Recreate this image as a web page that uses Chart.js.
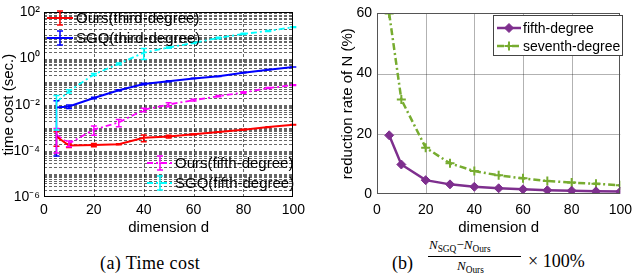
<!DOCTYPE html>
<html>
<head>
<meta charset="utf-8">
<script src="https://cdn.jsdelivr.net/npm/chart.js@4/dist/chart.umd.min.js"></script>
<style>
  html, body { margin: 0; padding: 0; background: #fff; }
  body { width: 640px; height: 278px; position: relative; overflow: hidden; }
  canvas { position: absolute; top: 0; }
  #ca { left: 0; }
  #cb { left: 320px; }
  .cap { position: absolute; color: #000; white-space: nowrap; line-height: 1; font-family: "Liberation Serif", serif; }
  .cap i { font-style: italic; }
  .sub { font-size: 0.72em; position: relative; top: 0.3em; }
</style>
</head>
<body>
<canvas id="ca" width="310" height="237"></canvas>
<canvas id="cb" width="320" height="237"></canvas>

<div class="cap" style="left:100px; top:254px; font-size:18px; letter-spacing:0.4px">(a) Time cost</div>
<div class="cap" style="left:392px; top:254px; font-size:18px">(b)</div>
<div class="cap" style="left:429px; top:238px; font-size:13px"><i>N</i><span class="sub">SGQ</span>&minus;<i>N</i><span class="sub">Ours</span></div>
<div style="position:absolute; left:428px; top:256px; width:93px; height:1px; background:#000"></div>
<div class="cap" style="left:457px; top:259px; font-size:13px"><i>N</i><span class="sub">Ours</span></div>
<div class="cap" style="left:528px; top:252px; font-size:18px">&times; 100%</div>

<script>
// dimension d
const dims = [5, 10, 20, 30, 40, 50, 60, 70, 80, 90, 100];

// (a) time cost in seconds, with error bar half widths
const oursThird    = [4.2e-4, 1.7e-4, 1.8e-4, 1.95e-4, 3.7e-4, 4.2e-4, 5.2e-4, 6.6e-4, 8.3e-4, 1.07e-3, 1.35e-3];
const oursThirdErr = [2.6e-4, 0.3e-4, 0.3e-4, 0.1e-4, 1.2e-4, 0.6e-4, 0.2e-4, 0.2e-4, 0.3e-4, 0.3e-4, 0.3e-4];
const sgqThird     = [7.5e-3, 8.3e-3, 0.0195, 0.042, 0.079, 0.105, 0.138, 0.17, 0.245, 0.33, 0.43];
const sgqThirdErr  = [7.44e-3, 1.5e-3, 1.5e-3, 2e-3, 6e-3, 5e-3, 3e-3, 3e-3, 5e-3, 5e-3, 5e-3];
const oursFifth    = [5e-4, 2.1e-4, 8.3e-4, 1.7e-3, 6.0e-3, 0.0102, 0.0158, 0.0234, 0.0339, 0.0525, 0.0708];
const oursFifthErr = [4.2e-4, 0.6e-4, 3.5e-4, 0.6e-3, 1.0e-3, 2.0e-3, 1.5e-3, 1.5e-3, 2.5e-3, 2.5e-3, 3e-3];
const sgqFifth     = [0.013, 0.038, 0.204, 0.59, 1.8, 3.0, 4.8, 7.8, 11.7, 15.8, 22.9];
const sgqFifthErr  = [0.0122, 0.006, 0.02, 0.05, 0.9, 0.2, 0.3, 0.5, 0.8, 0.8, 1.0];

// (b) reduction rate of N in percent
const fifthRate   = [19.5, 9.8, 4.6, 3.2, 2.4, 1.9, 1.55, 1.25, 1.1, 0.9, 0.8];
const seventhRate = [60, 31.4, 15.4, 10.2, 7.6, 6.2, 5.2, 4.3, 3.8, 3.4, 2.9];

const xTicks = [0, 20, 40, 60, 80, 100];
const rateTicks = [0, 20, 40, 60];
const logLabels = { '-6': '10⁻⁶', '-4': '10⁻⁴', '-2': '10⁻²', '0': '10⁰', '2': '10²' };

const FONT = '"Liberation Sans", Arial, sans-serif';

function pts(ys) {
  return dims.map((d, i) => ({ x: d, y: ys[i] }));
}

// all 1..9 x 10^k ticks so every minor grid line shows
function logTicks(lo, hi) {
  var out = [];
  for (var k = lo; k < hi; k++) {
    for (var m = 1; m < 10; m++) out.push({ value: m * Math.pow(10, k) });
  }
  out.push({ value: Math.pow(10, hi) });
  return out;
}

// matlab style grid: one line per tick of each scale
const matGrid = {
  id: 'matGrid',
  beforeDatasetsDraw(chart, args, opts) {
    const ctx = chart.ctx, a = chart.chartArea;
    ctx.save();
    ctx.strokeStyle = opts.color;
    ctx.lineWidth = 1;
    ctx.setLineDash(opts.dash);
    const xs = chart.scales.x, ys = chart.scales.y;
    xs.ticks.forEach(function (t) {
      const px = Math.round(xs.getPixelForValue(t.value)) + 0.5;
      if (px <= a.left + 1 || px >= a.right - 1) return;
      ctx.beginPath(); ctx.moveTo(px, a.bottom); ctx.lineTo(px, a.top); ctx.stroke();
    });
    ys.ticks.forEach(function (t) {
      const py = Math.round(ys.getPixelForValue(t.value)) + 0.5;
      if (py <= a.top + 1 || py >= a.bottom - 1) return;
      ctx.beginPath(); ctx.moveTo(a.left, py); ctx.lineTo(a.right, py); ctx.stroke();
    });
    ctx.restore();
  }
};

const errorBars = {
  id: 'errorBars',
  afterDatasetsDraw(chart) {
    const ctx = chart.ctx, xs = chart.scales.x, ys = chart.scales.y;
    chart.data.datasets.forEach(function (ds) {
      if (!ds.errors) return;
      ctx.save();
      ctx.strokeStyle = ds.borderColor;
      ctx.lineWidth = 1.5;
      ctx.setLineDash([]);
      ds.data.forEach(function (p, j) {
        const e = ds.errors[j];
        const px = xs.getPixelForValue(p.x);
        const y1 = ys.getPixelForValue(Math.max(p.y - e, ys.min));
        const y2 = ys.getPixelForValue(p.y + e);
        ctx.beginPath();
        ctx.moveTo(px, y1); ctx.lineTo(px, y2);
        ctx.moveTo(px - 3, y1); ctx.lineTo(px + 3, y1);
        ctx.moveTo(px - 3, y2); ctx.lineTo(px + 3, y2);
        ctx.stroke();
      });
      ctx.restore();
    });
  }
};

const frame = {
  id: 'frame',
  afterDatasetsDraw(chart, args, opts) {
    const a = chart.chartArea, ctx = chart.ctx;
    ctx.save();
    ctx.strokeStyle = opts.color || '#000';
    ctx.lineWidth = 1;
    ctx.setLineDash([]);
    ctx.strokeRect(Math.round(a.left) + 0.5, Math.round(a.top) + 0.5,
                   Math.round(a.right - a.left) - 1, Math.round(a.bottom - a.top) - 1);
    ctx.restore();
  }
};

const boxLegend = {
  id: 'boxLegend',
  afterDraw(chart, args, opts) {
    const ctx = chart.ctx;
    (opts.groups || []).forEach(function (g) {
      ctx.save();
      if (g.frame) {
        ctx.fillStyle = '#fff';
        ctx.fillRect(g.x, g.y, g.w, g.h);
        ctx.strokeStyle = '#444';
        ctx.lineWidth = 1;
        ctx.strokeRect(g.x + 0.5, g.y + 0.5, g.w, g.h);
      }
      g.items.forEach(function (idx, r) {
        const ds = chart.data.datasets[idx];
        const cy = g.rowY[r];
        const x0 = g.sx, x1 = g.sx + g.len, cx = (x0 + x1) / 2;
        ctx.strokeStyle = ds.borderColor;
        ctx.fillStyle = ds.borderColor;
        ctx.lineWidth = ds.borderWidth;
        ctx.setLineDash(ds.borderDash || []);
        ctx.beginPath(); ctx.moveTo(x0, cy); ctx.lineTo(x1, cy); ctx.stroke();
        ctx.setLineDash([]);
        if (ds.errors) {
          ctx.lineWidth = 1.5;
          ctx.beginPath();
          ctx.moveTo(cx, cy - 7); ctx.lineTo(cx, cy + 7);
          ctx.moveTo(cx - 3, cy - 7); ctx.lineTo(cx + 3, cy - 7);
          ctx.moveTo(cx - 3, cy + 7); ctx.lineTo(cx + 3, cy + 7);
          ctx.stroke();
        }
        if (ds.pointRadius > 0) {
          ctx.lineWidth = ds.pointBorderWidth || 1;
          Chart.helpers.drawPoint(ctx, { pointStyle: ds.pointStyle, radius: ds.pointRadius, borderWidth: ctx.lineWidth, rotation: 0 }, cx, cy);
        }
        ctx.fillStyle = '#000';
        ctx.font = g.font;
        ctx.textBaseline = 'middle';
        ctx.textAlign = 'left';
        ctx.fillText(ds.label, g.tx, cy + 1);
      });
      ctx.restore();
    });
  }
};

const dashDot = [6, 3, 2, 3];

new Chart(document.getElementById('ca'), {
  type: 'line',
  data: {
    datasets: [
      { label: 'Ours(third-degree)', data: pts(oursThird), errors: oursThirdErr,
        borderColor: '#ff0000', borderWidth: 2, pointRadius: 0 },
      { label: 'SGQ(third-degree)', data: pts(sgqThird), errors: sgqThirdErr,
        borderColor: '#0000ff', borderWidth: 2, pointRadius: 0 },
      { label: 'Ours(fifth-degree)', data: pts(oursFifth), errors: oursFifthErr,
        borderColor: '#ff00ff', borderWidth: 1.8, borderDash: dashDot, pointRadius: 0 },
      { label: 'SGQ(fifth-degree)', data: pts(sgqFifth), errors: sgqFifthErr,
        borderColor: '#00ffff', borderWidth: 1.8, borderDash: dashDot, pointRadius: 0 }
    ]
  },
  options: {
    responsive: false,
    animation: false,
    events: [],
    layout: { padding: { top: 7, right: 12, left: 0, bottom: 0 } },
    plugins: {
      legend: { display: false },
      tooltip: { enabled: false },
      frame: { color: '#000' },
      matGrid: { color: 'rgba(0,0,0,0.6)', dash: [3, 2] },
      boxLegend: {
        groups: [
          { items: [0, 1], sx: 47, len: 26, tx: 76, rowY: [18, 38], font: '15px ' + FONT },
          { items: [2, 3], sx: 147, len: 26, tx: 175, rowY: [163, 183], font: '15px ' + FONT }
        ]
      }
    },
    scales: {
      x: {
        type: 'linear', min: 0, max: 100,
        afterBuildTicks: function (s) { s.ticks = xTicks.map(v => ({ value: v })); },
        afterFit: function (s) { s.height = 40; },
        ticks: { color: '#000', font: { family: FONT, size: 14 }, padding: 5, maxRotation: 0 },
        grid: { display: false, drawTicks: false },
        border: { display: false },
        title: { display: true, text: 'dimension d', color: '#000', font: { family: FONT, size: 15 }, padding: 0 }
      },
      y: {
        type: 'logarithmic', min: 1e-6, max: 100,
        afterBuildTicks: function (s) { s.ticks = logTicks(-6, 2); },
        afterFit: function (s) { s.width = 44; },
        ticks: {
          autoSkip: false, color: '#000', font: { family: FONT, size: 14 }, padding: 4,
          callback: function (v) {
            const k = Math.round(Math.log10(v));
            if (Math.abs(v / Math.pow(10, k) - 1) > 1e-6) return '';
            return logLabels[String(k)] || '';
          }
        },
        grid: { display: false, drawTicks: false },
        border: { display: false },
        title: { display: true, text: 'time cost (sec.)', color: '#000', font: { family: FONT, size: 15 }, padding: 0 }
      }
    }
  },
  plugins: [matGrid, errorBars, frame, boxLegend]
});

new Chart(document.getElementById('cb'), {
  type: 'line',
  data: {
    datasets: [
      { label: 'fifth-degree', data: pts(fifthRate),
        borderColor: '#7e2f8e', backgroundColor: '#7e2f8e', borderWidth: 2.5,
        pointStyle: 'rectRot', pointRadius: 4.5, pointBackgroundColor: '#7e2f8e', pointBorderWidth: 1 },
      { label: 'seventh-degree', data: pts(seventhRate),
        borderColor: '#77ac30', backgroundColor: '#77ac30', borderWidth: 2.5, borderDash: [7, 3, 2, 3],
        pointStyle: 'cross', pointRadius: 4.5, pointBorderWidth: 2 }
    ]
  },
  options: {
    responsive: false,
    animation: false,
    events: [],
    layout: { padding: { top: 10, right: 13, left: 19, bottom: 0 } },
    plugins: {
      legend: { display: false },
      tooltip: { enabled: false },
      frame: { color: '#555' },
      matGrid: { color: 'rgba(0,0,0,0.3)', dash: [] },
      boxLegend: {
        groups: [
          { items: [0, 1], frame: true, x: 173, y: 15, w: 129, h: 40,
            sx: 177, len: 24, tx: 203, rowY: [28, 46], font: '14px ' + FONT }
        ]
      }
    },
    scales: {
      x: {
        type: 'linear', min: 0, max: 100,
        afterBuildTicks: function (s) { s.ticks = xTicks.map(v => ({ value: v })); },
        afterFit: function (s) { s.height = 43; },
        ticks: { color: '#000', font: { family: FONT, size: 14 }, padding: 8, maxRotation: 0 },
        grid: { display: false, drawTicks: false },
        border: { display: false },
        title: { display: true, text: 'dimension d', color: '#000', font: { family: FONT, size: 15 }, padding: 0 }
      },
      y: {
        type: 'linear', min: 0, max: 60,
        afterBuildTicks: function (s) { s.ticks = rateTicks.map(v => ({ value: v })); },
        afterFit: function (s) { s.width = 38; },
        ticks: { color: '#000', font: { family: FONT, size: 14 }, padding: 5 },
        grid: { display: false, drawTicks: false },
        border: { display: false },
        title: { display: true, text: 'reduction rate of N (%)', color: '#000', font: { family: FONT, size: 15 }, padding: 0 }
      }
    }
  },
  plugins: [matGrid, frame, boxLegend]
});
</script>
</body>
</html>
